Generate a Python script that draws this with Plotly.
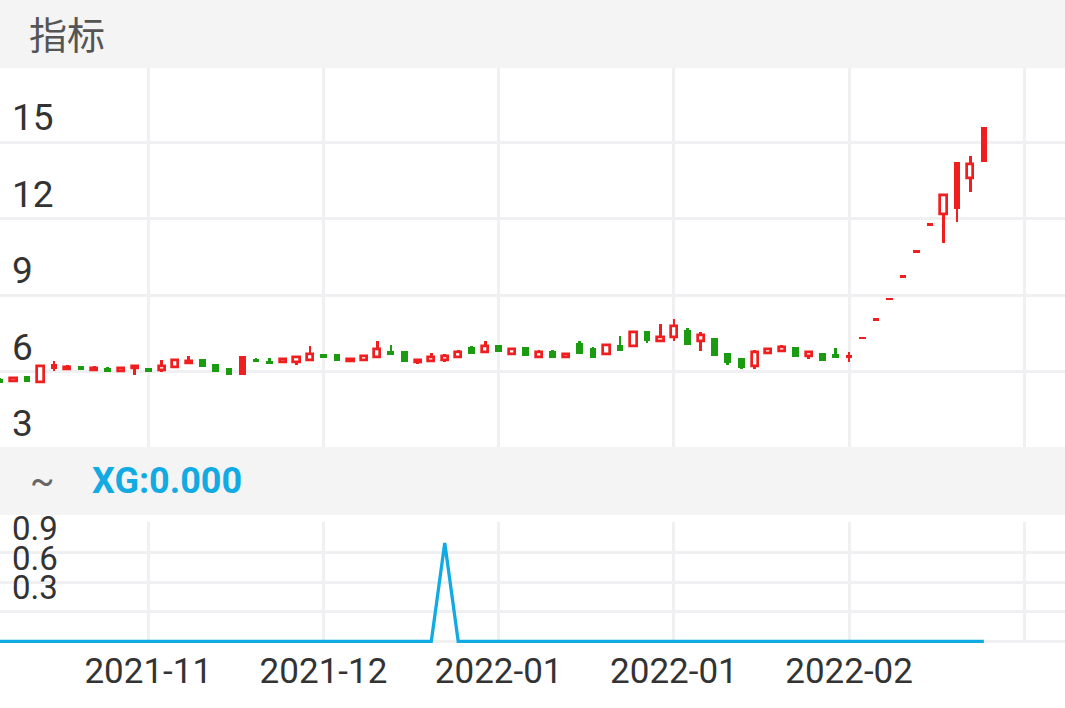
import plotly.graph_objects as go

# ---------------- data ----------------
opens = [5.71, 5.62, 5.82, 5.60, 6.11, 6.10, 6.21, 6.06, 6.15, 6.03,
         6.14, 6.13, 6.06, 6.19, 6.34, 6.50, 6.30, 6.15, 5.87, 6.50,
         6.43, 6.36, 6.37, 6.47, 6.69, 6.67, 6.43, 6.45, 6.56, 6.82,
         6.80, 6.39, 6.42, 6.47, 6.56, 6.98, 6.75, 7.02, 6.69, 6.96,
         6.56, 6.82, 6.55, 7.13, 6.92, 6.69, 7.02, 6.99, 7.60, 7.18,
         7.34, 7.61, 7.21, 7.31, 6.73, 6.53, 6.23, 6.73, 6.80, 6.96,
         6.60, 6.73, 6.69, 6.54, 7.31, 8.04, 8.85, 9.73, 10.70, 11.77,
         12.18, 12.38, 13.58, 14.22]
highs = [5.73, 5.73, 5.83, 6.20, 6.42, 6.24, 6.22, 6.20, 6.16, 6.14,
         6.27, 6.13, 6.47, 6.47, 6.59, 6.50, 6.30, 6.15, 6.60, 6.53,
         6.52, 6.49, 6.59, 7.00, 6.69, 6.67, 6.51, 6.65, 7.19, 7.05,
         6.80, 6.47, 6.73, 6.69, 6.85, 7.01, 7.19, 7.05, 6.90, 6.96,
         6.86, 6.85, 6.68, 7.19, 6.96, 7.03, 7.40, 7.54, 7.60, 7.86,
         8.07, 7.71, 7.55, 7.31, 6.73, 6.53, 6.85, 6.87, 7.05, 6.96,
         6.78, 6.73, 6.93, 6.76, 7.31, 8.04, 8.85, 9.73, 10.70, 11.77,
         12.94, 14.23, 14.46, 15.60]
lows = [5.54, 5.62, 5.58, 5.60, 6.03, 6.04, 6.04, 6.01, 6.00, 6.03,
        5.87, 6.00, 5.98, 6.19, 6.34, 6.17, 5.98, 5.87, 5.87, 6.37,
        6.30, 6.36, 6.27, 6.43, 6.52, 6.41, 6.43, 6.45, 6.56, 6.63,
        6.37, 6.31, 6.42, 6.39, 6.56, 6.67, 6.75, 6.76, 6.63, 6.59,
        6.56, 6.54, 6.55, 6.69, 6.52, 6.69, 6.80, 6.99, 7.10, 7.18,
        7.18, 7.02, 6.82, 6.60, 6.24, 6.08, 6.08, 6.73, 6.80, 6.56,
        6.50, 6.43, 6.54, 6.39, 7.31, 8.04, 8.85, 9.73, 10.70, 11.77,
        11.05, 11.87, 13.04, 14.22]
closes = [5.55, 5.73, 5.58, 6.20, 6.30, 6.18, 6.04, 6.15, 6.00, 6.14,
          6.22, 6.00, 6.22, 6.47, 6.42, 6.17, 5.98, 5.87, 6.60, 6.37,
          6.30, 6.49, 6.56, 6.69, 6.54, 6.41, 6.51, 6.60, 6.87, 6.63,
          6.37, 6.47, 6.58, 6.62, 6.76, 6.67, 6.99, 6.76, 6.90, 6.59,
          6.76, 6.54, 6.68, 6.69, 6.52, 7.03, 6.80, 7.54, 7.18, 7.36,
          7.77, 7.02, 7.45, 6.60, 6.34, 6.15, 6.76, 6.87, 6.96, 6.56,
          6.78, 6.43, 6.54, 6.65, 7.31, 8.04, 8.85, 9.73, 10.70, 11.77,
          12.94, 14.23, 14.13, 15.60]
xg = [0, 0, 0, 0, 0, 0, 0, 0, 0, 0,
      0, 0, 0, 0, 0, 0, 0, 0, 0, 0,
      0, 0, 0, 0, 0, 0, 0, 0, 0, 0,
      0, 0, 0, 1, 0, 0, 0, 0, 0, 0,
      0, 0, 0, 0, 0, 0, 0, 0, 0, 0,
      0, 0, 0, 0, 0, 0, 0, 0, 0, 0,
      0, 0, 0, 0, 0, 0, 0, 0, 0, 0,
      0, 0, 0, 0]
solid_up = [4, 18, 63, 71, 73]          # up-candles drawn solid in the source

x_tick_idx = [11, 24, 37, 50, 63, 76]
x_tick_text = ["2021-11", "2021-12", "2022-01", "2022-01", "2022-02", ""]
price_ticks = [3, 6, 9, 12, 15]
xg_ticks = [0, 0.3, 0.6, 0.9, 1.2]
xg_tick_text = ["", "0.3", "0.6", "0.9", ""]

# ---------------- styling ----------------
RED = "#f01e1e"
GREEN = "#1b9c10"
BLUE = "#12aae3"
GRID = "#f0f0f2"
BAND = "#f4f4f4"
TXT = "#333333"
W, H = 1065, 708

n = len(closes)
idx = list(range(n))
colors = []
for i in idx:
    o, c = opens[i], closes[i]
    if c > o:
        colors.append(RED)
    elif c < o:
        colors.append(GREEN)
    else:
        prev = closes[i - 1] if i > 0 else o
        colors.append(RED if c >= prev else GREEN)

hollow = [i for i in idx if closes[i] > opens[i] and i not in solid_up]
solid = [i for i in idx if i not in hollow]

fig = go.Figure()
# wicks
fig.add_trace(go.Bar(x=idx, base=lows, y=[highs[i] - lows[i] for i in idx],
                     width=0.2, marker=dict(color=colors, line=dict(width=0)),
                     hoverinfo="skip", xaxis="x", yaxis="y"))
# hollow up bodies
fig.add_trace(go.Bar(x=hollow, base=[opens[i] for i in hollow],
                     y=[closes[i] - opens[i] for i in hollow], width=0.46,
                     marker=dict(color="white", line=dict(color=RED, width=2.7)),
                     hoverinfo="skip", xaxis="x", yaxis="y"))
# solid bodies
MINH = 0.1
sb, sh = [], []
for i in solid:
    lo, hi = min(opens[i], closes[i]), max(opens[i], closes[i])
    if hi - lo < MINH:
        mid = (hi + lo) / 2
        lo, hi = mid - MINH / 2, mid + MINH / 2
    sb.append(lo)
    sh.append(hi - lo)
fig.add_trace(go.Bar(x=solid, base=sb, y=sh, width=0.5,
                     marker=dict(color=[colors[i] for i in solid], line=dict(width=0)),
                     hoverinfo="skip", xaxis="x", yaxis="y"))
# XG line
fig.add_trace(go.Scatter(x=idx, y=xg, mode="lines", line=dict(color=BLUE, width=3.3),
                         hoverinfo="skip", xaxis="x2", yaxis="y2"))

XR = [0, 79.02]
main_dom = [1 - 448.3 / H, 1 - 68.3 / H]
low_dom = [1 - 643 / H, 1 - 522.3 / H]

fig.update_layout(
    width=W, height=H, margin=dict(l=0, r=0, t=0, b=0),
    paper_bgcolor="white", plot_bgcolor="white", showlegend=False,
    barmode="overlay", bargap=0,
    xaxis=dict(domain=[0, 1], range=XR, anchor="y", tickmode="array", tickvals=x_tick_idx,
               showticklabels=False, showgrid=True, gridcolor=GRID, gridwidth=2.7,
               zeroline=False, showline=False, ticks=""),
    yaxis=dict(domain=main_dom, range=[3, 17.902], anchor="x", tickmode="array",
               tickvals=price_ticks, ticklabelposition="inside", ticklabelshift=-25,
               ticklabelstandoff=9,
               tickfont=dict(family="Roboto", size=37, color=TXT),
               showgrid=True, gridcolor=GRID, gridwidth=2.7, zeroline=False,
               showline=False, ticks=""),
    xaxis2=dict(domain=[0, 1], range=XR, anchor="y2", tickmode="array",
                tickvals=x_tick_idx, ticktext=x_tick_text,
                tickfont=dict(family="Roboto", size=35, color=TXT),
                ticklabelstandoff=4,
                showgrid=True, gridcolor=GRID, gridwidth=2.7, zeroline=False,
                showline=False, ticks=""),
    yaxis2=dict(domain=low_dom, range=[-0.0152, 1.21], anchor="x2", tickmode="array",
                tickvals=xg_ticks, showticklabels=False, showgrid=True,
                gridcolor=GRID, gridwidth=2.7, zeroline=False, showline=False, ticks=""),
)

shapes = [
    dict(type="rect", xref="paper", yref="paper", x0=0, x1=1, y0=1 - 68.3 / H, y1=1,
         fillcolor=BAND, line=dict(width=0), layer="above"),
    dict(type="rect", xref="paper", yref="paper", x0=0, x1=1, y0=1 - 515 / H, y1=1 - 447 / H,
         fillcolor=BAND, line=dict(width=0), layer="above"),
]
fig.update_layout(shapes=shapes)

ann = [
    dict(text="指标", x=27 / W, y=1 - 33 / H, xref="paper", yref="paper",
         xanchor="left", yanchor="middle", showarrow=False,
         font=dict(family="Noto Sans CJK SC", size=38, color="#555555")),
    dict(text="~", x=28 / W, y=1 - 481 / H, xref="paper", yref="paper",
         xanchor="left", yanchor="middle", showarrow=False,
         font=dict(family="Roboto", size=36, color="#666666")),
    dict(text="<b>XG:0.000</b>", x=90 / W, y=1 - 480.5 / H, xref="paper", yref="paper",
         xanchor="left", yanchor="middle", showarrow=False,
         font=dict(family="Roboto", size=36, color=BLUE)),
]
for v, t in zip(xg_ticks, xg_tick_text):
    if t:
        ann.append(dict(text=t, x=10 / W, xref="paper", y=v, yref="y2", yshift=24,
                        xanchor="left", yanchor="middle", showarrow=False,
                        font=dict(family="Roboto", size=33, color=TXT)))
fig.update_layout(annotations=ann)

fig.write_html("out.html", config={"displayModeBar": False},
               post_script="document.body.style.margin='0';document.body.style.padding='0';")
